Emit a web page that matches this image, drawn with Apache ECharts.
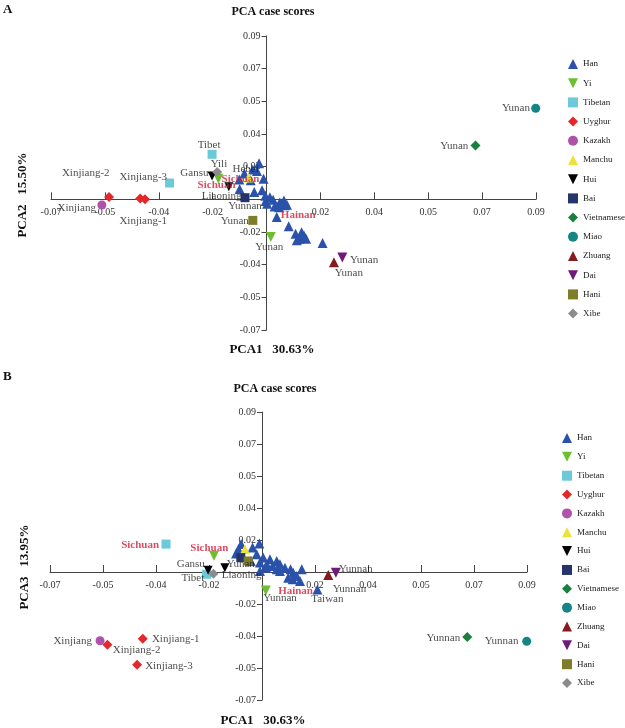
<!DOCTYPE html>
<html><head><meta charset="utf-8">
<script src="https://cdn.jsdelivr.net/npm/echarts@6/dist/echarts.min.js"></script>
<style>html,body{margin:0;padding:0;background:#fff}#c{width:625px;height:728px}</style>
</head><body><div id="c"></div>
<script>
// ---------- data ----------
const groups = ['Han','Yi','Tibetan','Uyghur','Kazakh','Manchu','Hui','Bai','Vietnamese','Miao','Zhuang','Dai','Hani','Xibe'];

// Panel A: PCA1 vs PCA2
const hanA = [[-0.0025,0.0199],[-0.0046,0.0164],[-0.0032,0.0156],[-0.0074,0.0142],[-0.0053,0.0105],[-0.0091,0.0109],[-0.0010,0.0114],[-0.0090,0.0057],[-0.0041,0.0040],[-0.0015,0.0050],[-0.0004,0.0020],[-0.0003,-0.0009],[0.0002,-0.0024],[0.0022,-0.0002],[0.0044,-0.0017],[0.0058,-0.0006],[0.0027,-0.0039],[0.0042,-0.0043],[0.0061,-0.0033],[0.0034,-0.0098],[0.0074,-0.0149],[0.0097,-0.0189],[0.0117,-0.0181],[0.0109,-0.0217],[0.0132,-0.0217],[0.0101,-0.0226],[0.0125,-0.0199],[0.0187,-0.0241],[0.0011,0.0011],[0.0048,-0.0022],[0.0068,-0.0030],[0.0122,-0.0204]];
const yiA = [[-0.0161,0.0114],[0.0014,-0.0208]];
const tibetanA = [[-0.0182,0.0248],[-0.0324,0.0090]];
const uyghurA = [[-0.0526,0.0013],[-0.0422,0.0004],[-0.0406,0.0000]];
const kazakhA = [[-0.0550,-0.0031]];
const manchuA = [[-0.0060,0.0120]];
const huiA = [[-0.0182,0.0129],[-0.0126,0.0070]];
const baiA = [[-0.0072,0.0009]];
const vietnameseA = [[0.0698,0.0297]];
const miaoA = [[0.0899,0.0502]];
const zhuangA = [[0.0225,-0.0346]];
const daiA = [[0.0253,-0.0320]];
const haniA = [[-0.0046,-0.0116]];
const xibeA = [[-0.0165,0.0151]];
const labelsA = [[-0.0192,0.0297,'Tibet'],[-0.0159,0.0193,'Yili'],[-0.0241,0.0147,'Gansu'],[-0.0070,0.0164,'Hebei'],[-0.0150,0.0018,'Liaoning'],[-0.0072,-0.0039,'Yunnan'],[-0.0106,-0.0120,'Yunan'],[0.0009,-0.0263,'Yunan'],[-0.0604,0.0142,'Xinjiang-2'],[-0.0412,0.0120,'Xinjiang-3'],[-0.0634,-0.0046,'Xinjiang'],[-0.0412,-0.0120,'Xinjiang-1'],[0.0627,0.0293,'Yunan'],[0.0833,0.0502,'Yunan'],[0.0275,-0.0405,'Yunan'],[0.0326,-0.0335,'Yunan']];
const redLabelsA = [[-0.0087,0.0110,'Sichuan'],[-0.0167,0.0076,'Sichuan'],[0.0106,-0.0088,'Hainan']];

// Panel B: PCA1 vs PCA3
const hanB = [[-0.0071,0.0157],[-0.0009,0.0160],[-0.0032,0.0138],[-0.0088,0.0104],[-0.0066,0.0090],[-0.0018,0.0100],[0.0004,0.0081],[0.0027,0.0072],[-0.0007,0.0053],[0.0050,0.0062],[0.0014,0.0024],[0.0036,0.0034],[0.0061,0.0044],[0.0078,0.0024],[0.0050,0.0015],[0.0097,0.0015],[0.0135,0.0015],[0.0106,-0.0004],[0.0118,-0.0023],[0.0104,-0.0041],[0.0129,-0.0051],[0.0089,-0.0032],[-0.0038,0.0062],[-0.0080,0.0128],[0.0016,0.0044],[0.0061,0.0006],[-0.0007,0.0006],[0.0188,-0.0098]];
const yiB = [[-0.0163,0.0091],[0.0013,-0.0104]];
const tibetanB = [[-0.0326,0.0157],[-0.0188,-0.0013]];
const uyghurB = [[-0.0525,-0.0409],[-0.0405,-0.0375],[-0.0424,-0.0522]];
const kazakhB = [[-0.0550,-0.0387]];
const manchuB = [[-0.0058,0.0128]];
const huiB = [[-0.0183,0.0010],[-0.0126,0.0024]];
const baiB = [[-0.0072,0.0081]];
const vietnameseB = [[0.0697,-0.0366]];
const miaoB = [[0.0899,-0.0390]];
const zhuangB = [[0.0225,-0.0017]];
const daiB = [[0.0251,-0.0004]];
const haniB = [[-0.0047,0.0062]];
const xibeB = [[-0.0165,-0.0010]];
const labelsB = [[-0.0242,0.0047,'Gansu'],[-0.0235,-0.0036,'Tibet'],[-0.0069,-0.0017,'Liaoning'],[-0.0072,0.0044,'Yunan'],[0.0061,-0.0149,'Yunnan'],[0.0319,0.0015,'Yunnan'],[0.0297,-0.0098,'Yunnan'],[0.0222,-0.0151,'Taiwan'],[0.0616,-0.0372,'Yunnan'],[0.0814,-0.0390,'Yunnan'],[-0.0643,-0.0387,'Xinjiang'],[-0.0426,-0.0437,'Xinjiang-2'],[-0.0293,-0.0375,'Xinjiang-1'],[-0.0316,-0.0532,'Xinjiang-3']];
const redLabelsB = [[-0.0414,0.0153,'Sichuan'],[-0.0179,0.0132,'Sichuan'],[0.0114,-0.0108,'Hainan']];

const axisMin = -0.072, axisMax = 0.09, axisStep = 0.018;

// ---------- layout & styles ----------
const FONT = '"Liberation Serif","DejaVu Serif",serif';
const INV = 'path://M0,0 L10,0 L5,10 Z';
const grids = [{left:51,top:36,width:485,height:294},{left:50,top:412,width:477,height:288}];
const styleOf = {
  Han:{symbol:'triangle',color:'#2a52aa',size:10},
  Yi:{symbol:INV,color:'#6cc030',size:10},
  Tibetan:{symbol:'rect',color:'#6ccad8',size:9},
  Uyghur:{symbol:'diamond',color:'#e3272a',size:10},
  Kazakh:{symbol:'circle',color:'#b053a8',size:9},
  Manchu:{symbol:'triangle',color:'#ece23a',size:10},
  Hui:{symbol:INV,color:'#000000',size:9},
  Bai:{symbol:'rect',color:'#26346c',size:9},
  Vietnamese:{symbol:'diamond',color:'#1a8040',size:10},
  Miao:{symbol:'circle',color:'#148484',size:9},
  Zhuang:{symbol:'triangle',color:'#861a1e',size:10},
  Dai:{symbol:INV,color:'#6e1a78',size:10},
  Hani:{symbol:'rect',color:'#7d7d2a',size:9},
  Xibe:{symbol:'diamond',color:'#8c8c8c',size:10}
};
const dataA = {Han:hanA,Yi:yiA,Tibetan:tibetanA,Uyghur:uyghurA,Kazakh:kazakhA,Manchu:manchuA,Hui:huiA,Bai:baiA,Vietnamese:vietnameseA,Miao:miaoA,Zhuang:zhuangA,Dai:daiA,Hani:haniA,Xibe:xibeA};
const dataB = {Han:hanB,Yi:yiB,Tibetan:tibetanB,Uyghur:uyghurB,Kazakh:kazakhB,Manchu:manchuB,Hui:huiB,Bai:baiB,Vietnamese:vietnameseB,Miao:miaoB,Zhuang:zhuangB,Dai:daiB,Hani:haniB,Xibe:xibeB};

function fmt(v){ if (Math.abs(v) < 1e-9) return ''; return v.toFixed(2); }
const zeroFrac = (0 - axisMin) / (axisMax - axisMin);
function axis(idx, isX){
  const g = grids[idx];
  const off = isX ? -g.height * zeroFrac : -g.width * zeroFrac;
  return {
    type:'value', gridIndex:idx, min:axisMin, max:axisMax, interval:axisStep,
    position: isX ? 'bottom' : 'left', offset: off,
    splitLine:{show:false},
    axisLine:{onZero:false, lineStyle:{color:'#444',width:1}},
    axisTick:{show:true, inside:isX, length:isX?7:5, lineStyle:{color:'#444'}},
    axisLabel:{formatter:fmt, fontFamily:FONT, fontSize:10, color:'#333', margin:isX?8:6}
  };
}
function groupSeries(idx, data){
  return groups.map(g => ({
    name:g, type:'scatter', xAxisIndex:idx, yAxisIndex:idx,
    symbol:styleOf[g].symbol, symbolSize:styleOf[g].size,
    itemStyle:{color:styleOf[g].color, opacity:1},
    data:data[g], z:3
  }));
}
function textSeries(idx, data, red){
  return {
    type:'scatter', xAxisIndex:idx, yAxisIndex:idx, symbolSize:1, silent:true, z:5,
    itemStyle:{color:'rgba(0,0,0,0)'},
    data:data,
    label:{show:true, position:'inside', align:'center', verticalAlign:'middle',
      formatter:p=>p.data[2], fontFamily:FONT, fontSize:11,
      fontWeight:red?'bold':'normal', color:red?'#d21f3c':'#1a1a1a'},
    labelLayout:{hideOverlap:false}
  };
}
function legend(left, top, gap){
  return {data:groups, orient:'vertical', left:left, top:top, padding:0, itemWidth:10, itemHeight:10, itemGap:gap,
    textStyle:{fontFamily:FONT, fontSize:9, color:'#222', lineHeight:10}, selectedMode:false};
}

const option = {
  animation:false,
  grid:grids,
  xAxis:[axis(0,true),axis(1,true)],
  yAxis:[axis(0,false),axis(1,false)],
  legend:[legend(568,59,9.2), legend(562,433,8.85)],
  series:[].concat(groupSeries(0,dataA), groupSeries(1,dataB),
    [textSeries(0,labelsA,false), textSeries(0,redLabelsA,true), textSeries(1,labelsB,false), textSeries(1,redLabelsB,true)]),
  graphic:[
    {type:'text', left:3, top:3, style:{text:'A', font:'bold 13px '+FONT, fill:'#111'}},
    {type:'text', left:3, top:370, style:{text:'B', font:'bold 13px '+FONT, fill:'#111'}},
    {type:'text', x:273, y:12, style:{text:'PCA case scores', font:'bold 12px '+FONT, fill:'#111', align:'center', verticalAlign:'middle'}},
    {type:'text', x:275, y:389, style:{text:'PCA case scores', font:'bold 12px '+FONT, fill:'#111', align:'center', verticalAlign:'middle'}},
    {type:'text', x:272, y:350, style:{text:'PCA1   30.63%', font:'bold 13px '+FONT, fill:'#111', align:'center', verticalAlign:'middle'}},
    {type:'text', x:263, y:721, style:{text:'PCA1   30.63%', font:'bold 13px '+FONT, fill:'#111', align:'center', verticalAlign:'middle'}},
    {type:'text', x:23, y:195, rotation:Math.PI/2, style:{text:'PCA2   15.50%', font:'bold 13px '+FONT, fill:'#111', align:'center', verticalAlign:'middle'}},
    {type:'text', x:25, y:567, rotation:Math.PI/2, style:{text:'PCA3   13.95%', font:'bold 13px '+FONT, fill:'#111', align:'center', verticalAlign:'middle'}}
  ]
};
const chart = echarts.init(document.getElementById('c'), null, {renderer:'canvas'});
chart.setOption(option);
</script>
</body></html>
